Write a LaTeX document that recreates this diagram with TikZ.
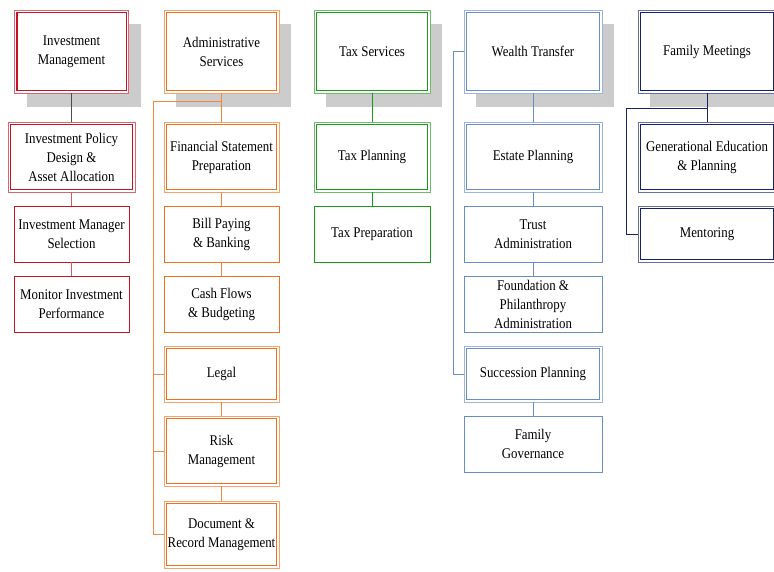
\documentclass[tikz,border=0pt]{standalone}
\usepackage{fontspec}
\setmainfont{Liberation Serif}[FakeStretch=0.87]
\usepackage{tikz}
\usetikzlibrary{positioning,shadows}
\definecolor{invred}{RGB}{195,20,35}
\definecolor{admorange}{RGB}{240,112,30}
\definecolor{taxgreen}{RGB}{25,155,25}
\definecolor{wealthblue}{RGB}{105,140,200}
\definecolor{famnavy}{RGB}{20,35,105}

\begin{document}
\begin{tikzpicture}[x=1pt, y=-1pt, node distance=14pt,
	bstyle/.style={rectangle, draw=#1, fill=white, line width=0.8pt, outer sep=0pt,
	minimum width=115pt, minimum height=56pt, inner sep=2pt, align=center,
	font=\fontsize{14.8}{19}\selectfont},
	dstyle/.style={bstyle=#1!65, path picture={\draw[#1, line width=1.2pt]
	([shift={(2.4pt,-2.4pt)}]path picture bounding box.north west) rectangle
	([shift={(-2.4pt,2.4pt)}]path picture bounding box.south east);}},
	tstyle/.style={dstyle=#1, minimum height=83pt, drop shadow={shadow xshift=12pt,
	shadow yshift=-14pt, fill=black!20, opacity=1}},
	lstyle/.style={draw=#1, line width=0.8pt}
	]
	\useasboundingbox (0,0) rectangle (774,571);
	\clip (0,0) rectangle (774,571);
	
	% investment
	\node[tstyle=invred, minimum width=114pt] (im) at (71.5,51.5) {Investment\\Management};
	\node[dstyle=invred, minimum width=127pt, minimum height=70pt] (ipd) [below=29pt of im] {Investment Policy\\Design \&\\Asset Allocation};
	\node[bstyle=invred] (ims) [below=of ipd] {Investment Manager\\Selection};
	\node[bstyle=invred] (mip) [below=of ims] {Monitor Investment\\Performance};
	
	% administrative
	\node[tstyle=admorange] (as) at (221.5,51.5) {Administrative\\Services};
	\node[dstyle=admorange, minimum height=70pt] (fsp) [below=29pt of as] {Financial Statement\\Preparation};
	\node[bstyle=admorange] (bpb) [below=of fsp] {Bill Paying\\\& Banking};
	\node[bstyle=admorange] (cfb) [below=of bpb] {Cash Flows\\\& Budgeting};
	\node[dstyle=admorange] (leg) [below=of cfb] {Legal};
	\node[dstyle=admorange, minimum height=70pt] (rm) [below=of leg] {Risk\\Management};
	\node[dstyle=admorange, minimum height=67pt] (drm) [below=15pt of rm] {Document \&\\Record Management};
	
	% tax
	\node[tstyle=taxgreen, minimum width=116pt] (ts) at (372,51.5) {Tax Services};
	\node[dstyle=taxgreen, minimum width=116pt, minimum height=70pt] (tp) [below=29pt of ts] {Tax Planning};
	\node[bstyle=taxgreen, minimum width=116pt] (tpr) [below=of tp] {Tax Preparation};
	
	% wealth
	\node[tstyle=wealthblue, minimum width=138pt] (wt) at (533,51.5) {Wealth Transfer};
	\node[dstyle=wealthblue, minimum width=138pt, minimum height=70pt] (ep) [below=29pt of wt] {Estate Planning};
	\node[bstyle=wealthblue, minimum width=138pt] (tra) [below=of ep] {Trust\\Administration};
	\node[bstyle=wealthblue, minimum width=138pt] (fpa) [below=of tra] {Foundation \&\\Philanthropy\\Administration};
	\node[dstyle=wealthblue, minimum width=138pt] (sp) [below=of fpa] {Succession Planning};
	\node[bstyle=wealthblue, minimum width=138pt] (fg) [below=of sp] {Family\\Governance};
	
	% family
	\node[tstyle=famnavy, minimum width=138pt] (fm) at (707,51.5) {Family Meetings};
	\node[dstyle=famnavy, minimum width=138pt, minimum height=70pt] (gep) [below=29pt of fm] {Generational Education\\\& Planning};
	\node[dstyle=famnavy, minimum width=138pt] (men) [below=of gep] {Mentoring};
	
	\coordinate (abus) at (153,101);
	\coordinate (wbus) at (453,51.5);
	\coordinate (fbus) at (626,108);
	
	\draw[lstyle=black!70] (im) to (ipd);
	\draw[lstyle=invred!70] (ipd) to (ims);
	\draw[lstyle=invred!70] (ims) to (mip);
	
	\draw[lstyle=admorange!85] (as) to (fsp);
	\draw[lstyle=admorange!85] (fsp) to (bpb);
	\draw[lstyle=admorange!85] (bpb) to (cfb);
	\draw[lstyle=admorange!85] (leg) to (rm);
	\draw[lstyle=admorange!85] (rm) to (drm);
	\draw[lstyle=admorange!85] (as.south |- abus) -- (abus) |- (drm.west);
	\draw[lstyle=admorange!85] (abus) |- (leg.west);
	\draw[lstyle=admorange!85] (abus) |- (rm.west);
	
	\draw[lstyle=taxgreen] (ts) to (tp);
	\draw[lstyle=taxgreen] (tp) to (tpr);
	
	\draw[lstyle=wealthblue] (wt) to (ep);
	\draw[lstyle=wealthblue] (ep) to (tra);
	\draw[lstyle=wealthblue] (tra) to (fpa);
	\draw[lstyle=wealthblue] (sp) to (fg);
	\draw[lstyle=wealthblue] (wt.west) -- (wbus) |- (sp.west);
	
	\draw[lstyle=famnavy] (fm) to (gep);
	\draw[lstyle=famnavy] (fm.south |- fbus) -- (fbus) |- (men.west);
\end{tikzpicture}
\end{document}
